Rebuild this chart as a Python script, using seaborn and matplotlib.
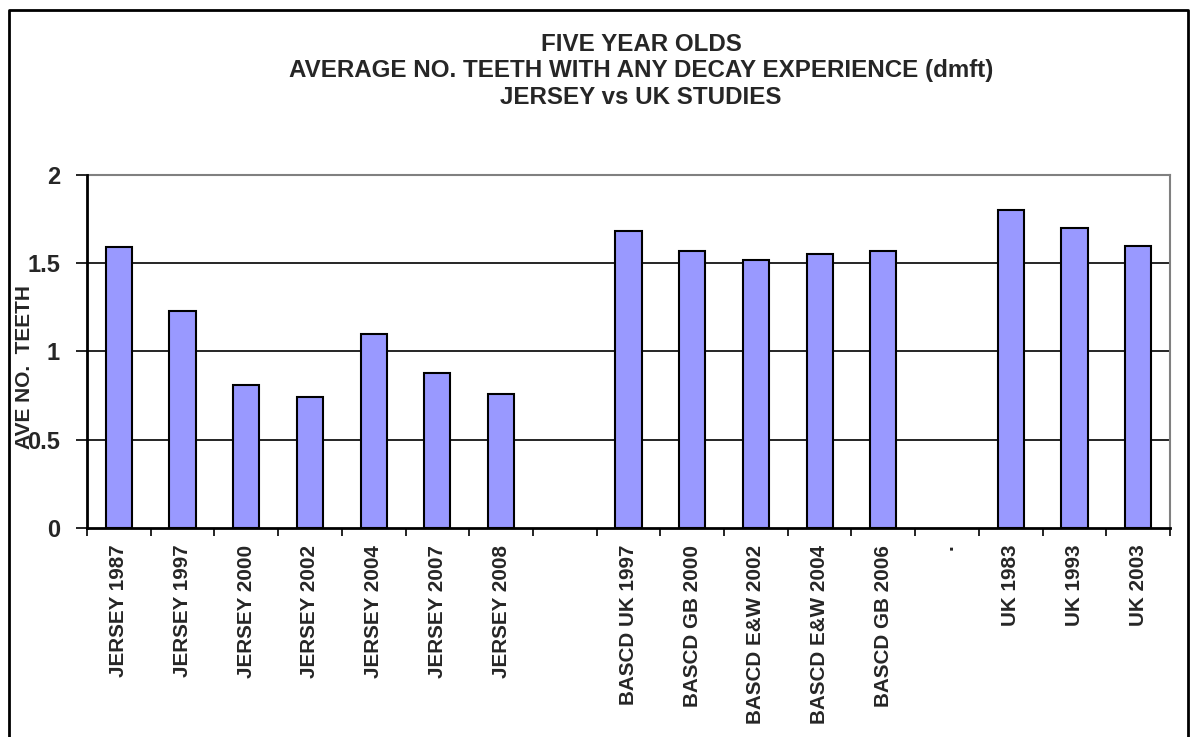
import matplotlib
matplotlib.use("Agg")
import matplotlib.pyplot as plt
import seaborn as sns
import numpy as np
import pandas as pd
from matplotlib.lines import Line2D
from matplotlib.ticker import FixedLocator

categories = ["JERSEY 1987", "JERSEY 1997", "JERSEY 2000", "JERSEY 2002",
              "JERSEY 2004", "JERSEY 2007", "JERSEY 2008", "",
              "BASCD UK 1997", "BASCD GB 2000", "BASCD E&W 2002",
              "BASCD E&W 2004", "BASCD GB 2006", ".",
              "UK 1983", "UK 1993", "UK 2003"]
values = [1.59, 1.23, 0.81, 0.74, 1.10, 0.88, 0.76, np.nan,
          1.68, 1.57, 1.52, 1.55, 1.57, np.nan,
          1.80, 1.70, 1.60]
ytick_values = [0, 0.5, 1, 1.5, 2]
ytick_labels = ["0", "0.5", "1", "1.5", "2"]
title_lines = ["FIVE YEAR OLDS",
               "AVERAGE NO. TEETH WITH ANY DECAY EXPERIENCE (dmft)",
               "JERSEY vs UK STUDIES"]
ylabel = "AVE NO.  TEETH"

sns.set_theme(style="white")
plt.rcParams['font.family'] = ['Liberation Sans', 'DejaVu Sans']
plt.rcParams['font.weight'] = 'bold'

df = pd.DataFrame({"cat": categories, "val": values})

fig = plt.figure(figsize=(11.91, 7.37), dpi=100)
ax = fig.add_axes([87/1191, 1 - 528/737, (1170 - 87)/1191, (528 - 175)/737])

sns.barplot(data=df, x="cat", y="val", order=categories, color="#9999FF",
            saturation=1, width=0.41, edgecolor="black", linewidth=1.5,
            errorbar=None, ax=ax, zorder=3)

n = len(categories)
ax.set_xlim(-0.5, n - 0.5)
ax.set_ylim(0, 2)

# grid lines
for yv in ytick_values[1:-1]:
    ax.axhline(yv, color="black", lw=1.2, zorder=1)

ax.set_yticks(ytick_values)
ax.set_yticklabels(ytick_labels, fontsize=17, fontweight='bold')
ax.tick_params(axis='y', which='major', length=8, width=1.2, color='black',
               pad=11.5, direction='out', left=True)

ax.set_xticks(np.arange(n))
ax.set_xticklabels(categories, rotation=90, fontsize=14.9, fontweight='bold',
                   va='top', ha='center')
ax.tick_params(axis='x', which='major', length=0, pad=12)
ax.xaxis.set_minor_locator(FixedLocator(np.arange(n + 1) - 0.5))
ax.tick_params(axis='x', which='minor', length=6, width=1.2, color='black',
               direction='out', bottom=True)

ax.set_xlabel("")
ax.set_ylabel("")

for s in ["left", "bottom"]:
    ax.spines[s].set_color("black")
    ax.spines[s].set_linewidth(2)
    ax.spines[s].set_zorder(5)
for s in ["top", "right"]:
    ax.spines[s].set_visible(True)
    ax.spines[s].set_color("#808080")
    ax.spines[s].set_linewidth(1.5)

fig.text(641/1191, 1 - 71/737, "\n".join(title_lines), ha="center", va="center",
         fontsize=17.4, fontweight="bold", linespacing=1.17)

fig.text(25/1191, 1 - 367/737, ylabel, rotation=90, ha="center", va="center",
         fontsize=15, fontweight="bold")

# outer border
fig.add_artist(Line2D([9/1191, 9/1191, 1188/1191, 1188/1191],
                      [0, 1 - 10/737, 1 - 10/737, 0],
                      transform=fig.transFigure, color="black", lw=2))

fig.savefig("out.png", dpi=100)
